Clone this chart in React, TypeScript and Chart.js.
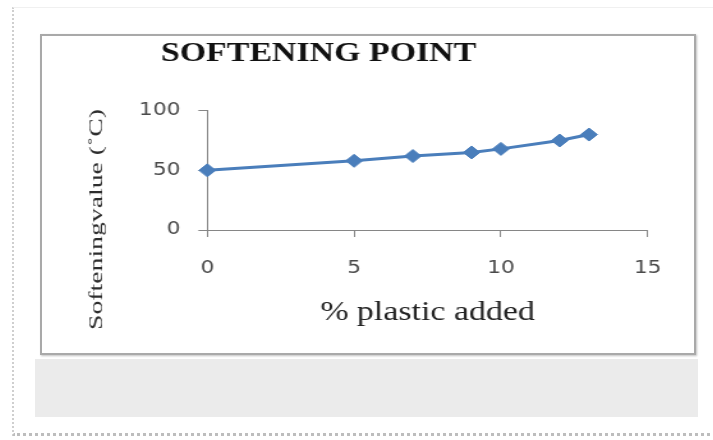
import React, { useEffect, useRef } from "react";
import { Chart, registerables } from "chart.js";

Chart.register(...registerables);

// ---- data ----
const chartTitle = "SOFTENING POINT";
const xAxisTitle = "% plastic added";
const yAxisTitle = "Softeningvalue (˚C)";
const percentPlastic = [0, 5, 7, 9, 10, 12, 13];
const softeningValue = [50, 58, 62, 65, 68, 75, 80];
const xTickValues = [0, 5, 10, 15];
const yTickValues = [0, 50, 100];

// ---- layout constants ----
const CANVAS_W = 510;
const CANVAS_H = 317;
const CSS_W = 652;

const refLayoutPlugin = {
  id: "refLayout",
  afterLayout(chart: any) {
    const tb = chart.titleBlock;
    if (tb) {
      const c = 216.3;
      const half = 200;
      tb.left = c - half;
      tb.right = c + half;
      tb.width = half * 2;
    }
  },
  afterDraw(chart: any) {
    const ctx = chart.ctx as CanvasRenderingContext2D;
    ctx.save();
    const f = 14.2;
    ctx.font = `${f}px "Liberation Serif"`;
    const w = ctx.measureText(yAxisTitle).width;
    ctx.translate(42.9, 183.5);
    ctx.rotate(-Math.PI / 2);
    ctx.scale(221 / w, 1);
    ctx.fillStyle = "#2e2e2e";
    ctx.textAlign = "center";
    ctx.textBaseline = "middle";
    ctx.fillText(yAxisTitle, 0, 0);
    ctx.restore();
  },
};

export default function App() {
  const ref = useRef<HTMLCanvasElement | null>(null);

  useEffect(() => {
    if (!ref.current) return;
    const axisColor = "#868686";
    const tickFont = { family: "'DejaVu Sans', sans-serif", size: 17 };
    const chart = new Chart(ref.current, {
      type: "line",
      data: {
        datasets: [
          {
            data: percentPlastic.map((x, i) => ({ x, y: softeningValue[i] })),
            borderColor: "#4a7ebb",
            backgroundColor: "#4a7ebb",
            borderWidth: 3,
            pointStyle: "rectRot",
            pointRadius: 6.5,
            pointBackgroundColor: "#4a7ebb",
            pointBorderColor: "#4a7ebb",
            pointBorderWidth: 1,
            tension: 0,
            clip: false as any,
          },
        ],
      },
      options: {
        responsive: false,
        animation: false,
        layout: { padding: { left: 0, right: 36.2, top: 0, bottom: 0 } },
        plugins: {
          legend: { display: false },
          tooltip: { enabled: false },
          title: {
            display: true,
            text: chartTitle,
            color: "#111111",
            font: { family: "'Liberation Serif', serif", size: 26.5, weight: "bold" },
            padding: { top: 2.2, bottom: 40.7 },
          },
        },
        scales: {
          x: {
            type: "linear",
            min: xTickValues[0],
            max: xTickValues[xTickValues.length - 1],
            afterBuildTicks: (scale: any) => {
              scale.ticks = xTickValues.map((v) => ({ value: v }));
            },
            ticks: { font: tickFont, color: "#4a4a4a", padding: 21, maxRotation: 0 },
            grid: { drawOnChartArea: false, drawTicks: true, tickLength: 7, color: axisColor },
            border: { color: axisColor, width: 1 },
            title: {
              display: true,
              text: xAxisTitle,
              color: "#222222",
              font: { family: "'Liberation Serif', serif", size: 26.5 },
              padding: { top: 0, bottom: 24.4 },
            },
            afterFit: (scale: any) => {
              scale.height = 123;
            },
          },
          y: {
            type: "linear",
            min: yTickValues[0],
            max: yTickValues[yTickValues.length - 1],
            afterBuildTicks: (scale: any) => {
              scale.ticks = yTickValues.map((v) => ({ value: v }));
            },
            ticks: { font: tickFont, color: "#4a4a4a", padding: 14 },
            grid: { drawOnChartArea: false, drawTicks: true, tickLength: 7, color: axisColor },
            border: { color: axisColor, width: 1 },
            afterFit: (scale: any) => {
              scale.width = 129.3;
            },
          },
        },
      },
      plugins: [refLayoutPlugin],
    });
    return () => chart.destroy();
  }, []);

  return (
    <div
      style={{
        position: "absolute",
        left: 0,
        top: 0,
        width: 713,
        height: 440,
        background: "#ffffff",
        overflow: "hidden",
      }}
    >
      {/* faint outer frame */}
      <div
        style={{
          position: "absolute",
          left: 12,
          top: 7,
          width: 710,
          height: 429,
          borderLeft: "2px dotted #cfcfcf",
          borderBottom: "3px dotted #bdbdbd",
          borderTop: "1px solid #f0f0f0",
          boxSizing: "border-box",
        }}
      />
      {/* chart frame */}
      <div
        style={{
          position: "absolute",
          left: 40,
          top: 34,
          width: 656,
          height: 321,
          border: "2px solid #a9a9a9",
          boxSizing: "border-box",
          background: "#ffffff",
          boxShadow: "1px 1px 2px rgba(0,0,0,0.25)",
        }}
      >
        <canvas
          ref={ref}
          width={CANVAS_W}
          height={CANVAS_H}
          style={{
            position: "absolute",
            left: 0,
            top: 0,
            width: `${CSS_W}px`,
            height: `${CANVAS_H}px`,
          }}
        />
      </div>
      {/* gray band */}
      <div
        style={{
          position: "absolute",
          left: 35,
          top: 359,
          width: 663,
          height: 58,
          background: "#ebebeb",
        }}
      />
    </div>
  );
}
